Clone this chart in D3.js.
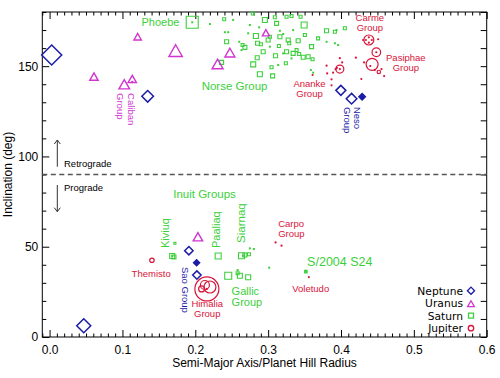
<!DOCTYPE html>
<html><head><meta charset="utf-8">
<script src="https://cdn.jsdelivr.net/npm/d3@7"></script>
<style>body{margin:0;background:#fff}svg{display:block;font-family:"Liberation Sans",Arial,sans-serif}</style>
</head><body><svg id="c" width="500" height="378"></svg>
<script>
// ---- data: [semi-major axis / Hill radius, inclination (deg), relative symbol size, filled]
const neptuneMoons = [
  [0.0029,156.2,10,0],[0.0469,6.2,7,0],[0.1346,133.3,5.8,0],
  [0.1912,47.8,4.2,0],[0.2018,41.1,3,1],[0.2022,34.3,4.2,0],
  [0.3998,136.6,5,0],[0.4145,132.0,5.3,0],[0.4290,133.1,3.2,1]
];
const uranusMoons = [
  [0.0609,144.2,4.2],[0.1209,166.3,3.7],[0.1730,158.6,6.7],[0.1025,140.0,5.3],
  [0.1135,142.9,4.2],[0.2306,151.2,5.5],[0.2475,157.5,5],[0.2969,168.5,3.5],[0.2036,55.5,4.7]
];
const uranusSmall = [[0.1135,141.2]];
const saturnMoons = [
  [0.1958,174.3,12],[0.2397,176.0,3],[0.2790,179.2,3],[0.2955,175.6,5],[0.3092,177.1,3],
  [0.3116,173.7,4],[0.3253,177.4,3],[0.3321,177.8,3],[0.3445,177.4,3],[0.3494,172.8,6],
  [0.3504,167.3,3],[0.3802,169.6,4],[0.3916,169.1,3],[0.2832,166.7,5],[0.3000,164.5,4],
  [0.3024,166.3,3],[0.3161,166.3,4],[0.3275,164.5,4],[0.3412,164.1,4],[0.2430,163.5,4],
  [0.2855,162.7,4],[0.2900,162.1,3],[0.2681,160.4,4],[0.2932,158.0,4],[0.3253,158.0,4],
  [0.3147,161.2,3],[0.3289,162.7,3],[0.3343,157.1,4],[0.3549,155.2,4],[0.3610,153.8,3],
  [0.3481,154.9,4],[0.3390,158.9,3],[0.3596,160.8,4],[0.2850,154.7,4],[0.3102,155.8,4],
  [0.3243,151.6,3],[0.2795,151.0,5],[0.3047,149.4,3],[0.2886,145.5,5],[0.3061,144.6,4],
  [0.2361,152.1,4],[0.3426,156.7,3],[0.2649,161.7,3],[0.3686,165.4,3],[0.4053,171.0,3],
  [0.1683,44.9,5],[0.1707,44.3,4],[0.1720,51.9,2],[0.2314,44.9,6],
  [0.2635,45.0,6],[0.2681,45.4,4],[0.2736,45.8,3],
  [0.2452,33.9,7],[0.2612,33.9,5],[0.2726,33.1,5],[0.2581,35.3,3],[0.3518,36.2,2.5]
];
const saturnSmall = [
  [0.2201,173.3],[0.2520,175.6],[0.2406,168.8],[0.2452,168.8],[0.2749,172.8],[0.2877,171.5],
  [0.2726,168.2],[0.2603,163.5],[0.2635,158.9],[0.3161,169.6],[0.3206,167.8],[0.3343,170.0],
  [0.3802,163.5],[0.3916,162.7],[0.3939,170.0],[0.3138,150.6],[0.3586,147.9],[0.3618,146.4],
  [0.3206,157.1],[0.3024,160.8],[0.3321,154.3],[0.3961,161.7],[0.1958,174.3],
  [0.1686,44.9],[0.2749,49.1],[0.2804,48.7],[0.2653,45.0],[0.2581,37.1],[0.3014,38.4],[0.3518,36.2]
];
const jupiterMoons = [
  [0.1405,42.5,2.2],[0.2159,26.6,12],[0.2201,27.7,6],[0.2132,28.8,4.5],[0.2087,26.6,3],
  [0.3984,148.4,4],[0.4382,164.5,5],[0.4427,151.0,6],[0.4485,157.7,4.3],[0.4519,146.8,1.7]
];
const jupiterSmall = [
  [0.2159,26.6],[0.3102,52.4],[0.3184,50.6],[0.3559,33.2],
  [0.4016,152.1],[0.3984,154.4],[0.3892,146.4],[0.3870,142.7],[0.3810,146.0],[0.3802,150.3],
  [0.3610,145.1],[0.3925,148.3],[0.3870,139.4],[0.3943,149.0],[0.3984,148.4],
  [0.4304,164.5],[0.4510,164.9],[0.4341,164.5],[0.4382,166.0],[0.4382,163.0],[0.4423,164.5],
  [0.4317,152.1],[0.4592,144.5],[0.4279,142.9],[0.4556,148.4],[0.4402,150.1],[0.4464,147.9],
  [0.4485,157.7],[0.4204,154.7]
];
const xTicks = [0,0.1,0.2,0.3,0.4,0.5,0.6];
const xTickLabels = ["0.0","0.1","0.2","0.3","0.4","0.5","0.6"];
const yTicks = [0,50,100,150];
const yTickLabels = ["0","50","100","150"];
const legendNames = ["Neptune","Uranus","Saturn","Jupiter"];

const C = {nep:"#1c1ca6", ura:"#d035d0", sat:"#3ccf3c", jup:"#d9143a"};

const svg = d3.select("#c");
const x = d3.scaleLinear().domain([-0.01,0.6]).range([42.3,486.7]);
const y = d3.scaleLinear().domain([0,180]).range([337,12]);
const sz = d3.scaleLinear().domain([0,10]).range([0,10]);

// axes
const xMinor = d3.range(-0.01,0.6001,0.01).filter(v=>Math.abs(Math.round(v*10)-v*10)>1e-6);
const yMinor = d3.range(0,181,10).filter(v=>v%50!==0);
function styleAx(g){g.select(".domain").remove();g.selectAll("line").attr("stroke","#000");g.selectAll("text").attr("fill","#000");}
svg.append("g").attr("transform","translate(0,337)")
  .call(d3.axisBottom(x).tickValues(xTicks).tickFormat((d,i)=>xTickLabels[i]).tickSize(-7).tickPadding(8))
  .call(styleAx).attr("font-size",12).attr("font-family",null);
svg.append("g").attr("transform","translate(0,337)")
  .call(d3.axisBottom(x).tickValues(xMinor).tickFormat("").tickSize(-3.5)).call(styleAx);
svg.append("g").attr("transform","translate(0,12)")
  .call(d3.axisTop(x).tickValues(xTicks).tickFormat("").tickSize(-7)).call(styleAx);
svg.append("g").attr("transform","translate(0,12)")
  .call(d3.axisTop(x).tickValues(xMinor).tickFormat("").tickSize(-3.5)).call(styleAx);
svg.append("g").attr("transform","translate(42.3,0)")
  .call(d3.axisLeft(y).tickValues(yTicks).tickFormat((d,i)=>yTickLabels[i]).tickSize(-7).tickPadding(4))
  .call(styleAx).attr("font-size",12).attr("font-family",null);
svg.append("g").attr("transform","translate(42.3,0)")
  .call(d3.axisLeft(y).tickValues(yMinor).tickFormat("").tickSize(-4)).call(styleAx);
svg.append("g").attr("transform","translate(486.7,0)")
  .call(d3.axisRight(y).tickValues(yTicks.concat(yMinor)).tickFormat("").tickSize(-6)).call(styleAx);
svg.append("rect").attr("x",x(-0.01)).attr("y",y(180)).attr("width",x(0.6)-x(-0.01)).attr("height",y(0)-y(180))
  .attr("fill","none").attr("stroke","#000").attr("stroke-width",1);

svg.append("text").attr("x",(x(-0.01)+x(0.6))/2).attr("y",367).attr("text-anchor","middle").attr("font-size",12)
  .text("Semi-Major Axis/Planet Hill Radius");
svg.append("text").attr("transform",`translate(12,${(y(0)+y(180))/2}) rotate(-90)`).attr("text-anchor","middle").attr("font-size",12)
  .text("Inclination (deg)");

// retrograde / prograde divider
svg.append("line").attr("x1",x(-0.01)).attr("x2",x(0.6)).attr("y1",y(90)).attr("y2",y(90))
  .attr("stroke","#555").attr("stroke-width",1.3).attr("stroke-dasharray","5,3.5");
const arrowX = x(0.0106);
function arrow(v0,v1){
  const y0=y(v0), y1=y(v1), dir = y1<y0?1:-1;
  svg.append("line").attr("x1",arrowX).attr("x2",arrowX).attr("y1",y0).attr("y2",y1).attr("stroke","#333").attr("stroke-width",1);
  svg.append("path").attr("d",`M${arrowX-3},${y1+dir*4}L${arrowX},${y1}L${arrowX+3},${y1+dir*4}`).attr("fill","none").attr("stroke","#333").attr("stroke-width",1);
}
arrow(94.3,109.1); arrow(84.2,69.4);
svg.append("text").attr("x",x(0.0198)).attr("y",y(93.9)).attr("font-size",9.5).text("Retrograde");
svg.append("text").attr("x",x(0.0198)).attr("y",y(80.9)).attr("font-size",9.5).text("Prograde");

// marks
const gm = svg.append("g");
function diamond(cx,cy,h){return `M${cx},${cy-h}L${cx+h},${cy}L${cx},${cy+h}L${cx-h},${cy}Z`;}
function tri(cx,cy,w){const h=w*1.75;return `M${cx},${cy-h/2}L${cx+w},${cy+h/2}L${cx-w},${cy+h/2}Z`;}
function sq(cx,cy,s){return `M${cx-s/2},${cy-s/2}h${s}v${s}h${-s}Z`;}

gm.selectAll(".sd").data(saturnSmall).join("rect").attr("x",d=>x(d[0])-1).attr("y",d=>y(d[1])-1)
  .attr("width",2).attr("height",2).attr("fill",C.sat);
gm.selectAll(".sq").data(saturnMoons).join("path").attr("d",d=>sq(x(d[0]),y(d[1]),sz(d[2])))
  .attr("fill","none").attr("stroke",C.sat).attr("stroke-width",1.1);
gm.selectAll(".tr").data(uranusMoons).join("path").attr("d",d=>tri(x(d[0]),y(d[1]),sz(d[2])))
  .attr("fill","none").attr("stroke",C.ura).attr("stroke-width",1.4);
gm.selectAll(".ud").data(uranusSmall).join("circle").attr("cx",d=>x(d[0])).attr("cy",d=>y(d[1])).attr("r",1.3).attr("fill",C.ura);
gm.selectAll(".jd").data(jupiterSmall).join("circle").attr("cx",d=>x(d[0])).attr("cy",d=>y(d[1])).attr("r",1.1).attr("fill",C.jup);
gm.selectAll(".jc").data(jupiterMoons).join("circle").attr("cx",d=>x(d[0])).attr("cy",d=>y(d[1])).attr("r",d=>sz(d[2]))
  .attr("fill","none").attr("stroke",C.jup).attr("stroke-width",1.2);
gm.selectAll(".nd").data(neptuneMoons).join("path").attr("d",d=>diamond(x(d[0]),y(d[1]),sz(d[2])))
  .attr("fill",d=>d[3]?C.nep:"none").attr("stroke",C.nep).attr("stroke-width",1.5);

// annotations: [text lines, a, i, colour, size, anchor, rotation, line spacing]
const notes = [
  [["Phoebe"],0.1261,172.0,C.sat,11,"start",0,10],
  [["Norse Group"],0.2087,136.8,C.sat,11.5,"start",0,10],
  [["Inuit Groups"],0.1697,76.8,C.sat,11.5,"start",0,10],
  [["Gallic","Group"],0.2498,23.0,C.sat,11,"start",0,10.5],
  [["S/2004 S24"],0.3535,39.6,C.sat,12.5,"start",0,10],
  [["Kiviuq"],0.1638,49.3,C.sat,11,"start",-90,10],
  [["Paaliaq"],0.2338,49.3,C.sat,11,"start",-90,10],
  [["Siarnaq"],0.2688,52.1,C.sat,11.5,"start",-90,10],
  [["Themisto"],0.1126,33.2,C.jup,9.5,"start",0,9],
  [["Himalia","Group"],0.2164,16.4,C.jup,9.5,"middle",0,10],
  [["Carpo","Group"],0.3138,61.2,C.jup,9.5,"start",0,10],
  [["Voletudo"],0.3330,24.8,C.jup,9.5,"start",0,9],
  [["Carme","Group"],0.4396,175.0,C.jup,9.5,"middle",0,10],
  [["Pasiphae","Group"],0.4890,152.9,C.jup,9.5,"middle",0,10],
  [["Ananke","Group"],0.3568,138.7,C.jup,9.5,"middle",0,10],
  [["Caliban","Group"],0.1082,135.1,C.ura,9.5,"start",90,11],
  [["Neso","Group"],0.4183,127.4,C.nep,9.5,"start",90,10],
  [["Sao Group"],0.1823,38.8,C.nep,9.5,"start",90,9]
];
notes.forEach(n=>{
  const t = svg.append("text").attr("transform",`translate(${x(n[1])},${y(n[2])}) rotate(${n[6]})`)
    .attr("fill",n[3]).attr("font-size",n[4]).attr("text-anchor",n[5]);
  n[0].forEach((s,i)=>t.append("tspan").attr("x",0).attr("y",i*n[7]).text(s));
});

// legend
const lg = svg.append("g");
const legY = [294.5,307,319.5,332];
legendNames.forEach((nm,i)=>{
  lg.append("text").attr("x",463).attr("y",legY[i]).attr("text-anchor","end")
    .attr("font-family","'DejaVu Sans',sans-serif").attr("font-size",10.7).text(nm);
});
lg.append("path").attr("d",diamond(471,legY[0]-3.8,3.6)).attr("fill","none").attr("stroke",C.nep).attr("stroke-width",1.3);
lg.append("path").attr("d",tri(471,legY[1]-3.3,3.4)).attr("fill","none").attr("stroke",C.ura).attr("stroke-width",1.3);
lg.append("path").attr("d",sq(471,legY[2]-3.8,5)).attr("fill","none").attr("stroke",C.sat).attr("stroke-width",1.3);
lg.append("circle").attr("cx",471).attr("cy",legY[3]-3.8).attr("r",2.7).attr("fill","none").attr("stroke",C.jup).attr("stroke-width",1.3);
</script></body></html>
